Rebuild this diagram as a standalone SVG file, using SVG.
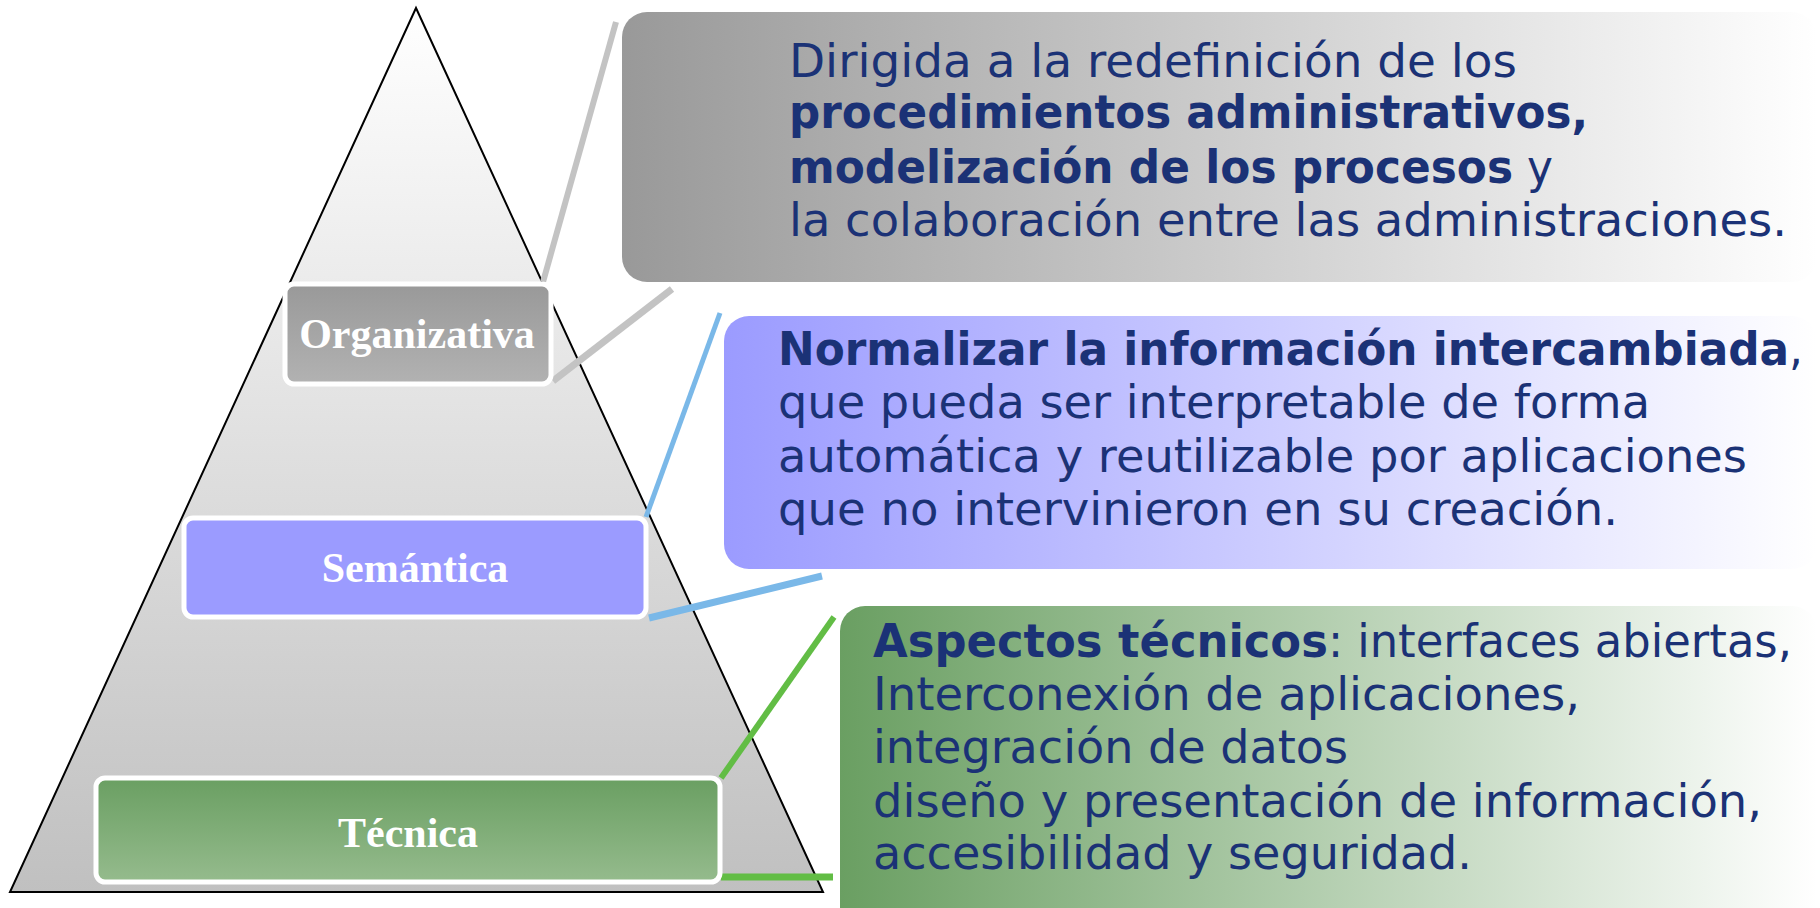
<svg xmlns="http://www.w3.org/2000/svg" width="1820" height="908" viewBox="0 0 1820 908">
<style>
.lbl{font-family:"Liberation Serif","Times New Roman",serif;font-weight:bold;font-size:42px;fill:#fff;text-anchor:middle}
.body{font-family:"DejaVu Sans",Verdana,sans-serif;font-size:46px;fill:#1b3276}
.b{font-weight:bold}
.lb{stroke:#fff;stroke-width:5}
</style>
<defs>
<linearGradient id="gTri" x1="0" y1="0" x2="0" y2="1"><stop offset="0" stop-color="#ffffff"/><stop offset="1" stop-color="#c0c0c0"/></linearGradient>
<linearGradient id="gOrg" x1="0" y1="0" x2="0" y2="1"><stop offset="0" stop-color="#999999"/><stop offset="1" stop-color="#b2b2b2"/></linearGradient>
<linearGradient id="gTec" x1="0" y1="0" x2="0" y2="1"><stop offset="0" stop-color="#6a9f62"/><stop offset="1" stop-color="#95bb8d"/></linearGradient>
<linearGradient id="gGray" x1="0" y1="0" x2="1" y2="0"><stop offset="0" stop-color="#999999"/><stop offset="1" stop-color="#ffffff"/></linearGradient>
<linearGradient id="gBlue" x1="0" y1="0" x2="1" y2="0"><stop offset="0" stop-color="#9b9bff"/><stop offset="1" stop-color="#ffffff"/></linearGradient>
<linearGradient id="gGreen" x1="0" y1="0" x2="1" y2="0"><stop offset="0" stop-color="#6a9f62"/><stop offset="1" stop-color="#ffffff"/></linearGradient>
</defs>
<rect width="1820" height="908" fill="#fff"/>
<g id="pyramid">
<polygon points="416,8 10,892 823,892" fill="url(#gTri)" stroke="#000" stroke-width="2"/>
</g>
<g id="connectors" fill="none">
<line x1="543" y1="282" x2="616" y2="22" stroke="#c3c3c3" stroke-width="6"/>
<line x1="553" y1="381" x2="672" y2="289" stroke="#c3c3c3" stroke-width="7"/>
<line x1="646" y1="517" x2="720" y2="313" stroke="#7ab8e8" stroke-width="5"/>
<line x1="649" y1="618" x2="822" y2="576" stroke="#7ab8e8" stroke-width="7"/>
<line x1="721" y1="778" x2="834" y2="617" stroke="#62bd45" stroke-width="6"/>
<line x1="721" y1="877" x2="833" y2="877" stroke="#62bd45" stroke-width="7"/>
</g>
<g id="organizativa">
<rect class="lb" x="285" y="284" width="266" height="100" rx="9" fill="url(#gOrg)"/>
<text class="lbl" x="417" y="348">Organizativa</text>
</g>
<g id="semantica">
<rect class="lb" x="184" y="518" width="462" height="99" rx="9" fill="#9b9bff"/>
<text class="lbl" x="415" y="582">Semántica</text>
</g>
<g id="tecnica">
<rect class="lb" x="96" y="778" width="624" height="104" rx="9" fill="url(#gTec)"/>
<text class="lbl" x="408" y="847">Técnica</text>
</g>
<g id="desc-organizativa">
<rect x="622" y="12" width="1195" height="270" rx="25" fill="url(#gGray)"/>
<text class="body" x="789" y="77" textLength="728" lengthAdjust="spacingAndGlyphs">Dirigida a la redefinición de los</text>
<text class="body b" x="789" y="128" textLength="799" lengthAdjust="spacingAndGlyphs">procedimientos administrativos,</text>
<text class="body" x="789" y="183" textLength="764" lengthAdjust="spacingAndGlyphs"><tspan class="b">modelización de los procesos</tspan> y</text>
<text class="body" x="789" y="236" textLength="998" lengthAdjust="spacingAndGlyphs">la colaboración entre las administraciones.</text>
</g>
<g id="desc-semantica">
<rect x="724" y="316" width="1093" height="253" rx="25" fill="url(#gBlue)"/>
<text class="body" x="778" y="365" textLength="1025" lengthAdjust="spacingAndGlyphs"><tspan class="b">Normalizar la información intercambiada</tspan>,</text>
<text class="body" x="778" y="418" textLength="872" lengthAdjust="spacingAndGlyphs">que pueda ser interpretable de forma</text>
<text class="body" x="778" y="472" textLength="969" lengthAdjust="spacingAndGlyphs">automática y reutilizable por aplicaciones</text>
<text class="body" x="778" y="525" textLength="840" lengthAdjust="spacingAndGlyphs">que no intervinieron en su creación.</text>
</g>
<g id="desc-tecnica">
<rect x="840" y="606" width="977" height="340" rx="25" fill="url(#gGreen)"/>
<text class="body" x="873" y="657" textLength="919" lengthAdjust="spacingAndGlyphs"><tspan class="b">Aspectos técnicos</tspan>: interfaces abiertas,</text>
<text class="body" x="873" y="710" textLength="707" lengthAdjust="spacingAndGlyphs">Interconexión de aplicaciones,</text>
<text class="body" x="873" y="763" textLength="475" lengthAdjust="spacingAndGlyphs">integración de datos</text>
<text class="body" x="873" y="817" textLength="889" lengthAdjust="spacingAndGlyphs">diseño y presentación de información,</text>
<text class="body" x="873" y="869" textLength="599" lengthAdjust="spacingAndGlyphs">accesibilidad y seguridad.</text>
</g>
</svg>
